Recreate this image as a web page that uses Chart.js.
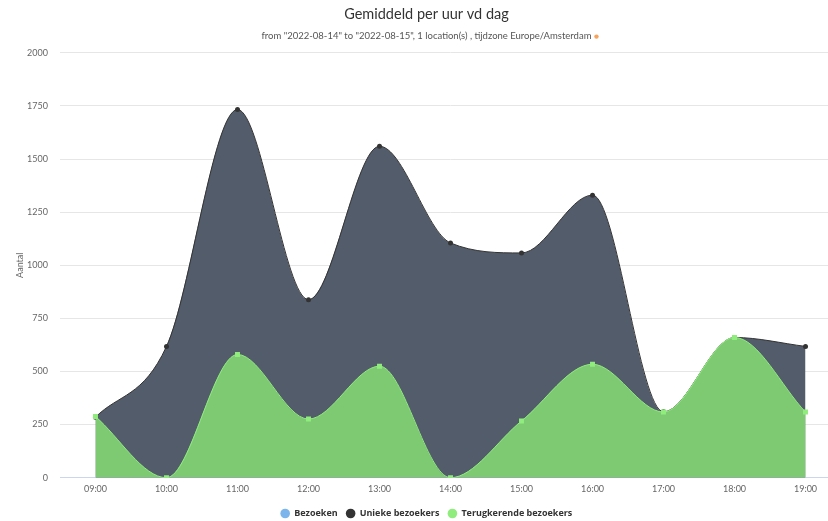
<!DOCTYPE html>
<html>
<head>
<meta charset="utf-8">
<script src="https://cdn.jsdelivr.net/npm/chart.js@4.4.0/dist/chart.umd.min.js"></script>
<style>
  html, body { margin: 0; padding: 0; background: #fff; overflow: hidden; }
  #wrap { width: 845px; height: 528px; }
</style>
</head>
<body>
<div id="wrap"><canvas id="chart"></canvas></div>
<script>
// chart data
const hours = ["09:00", "10:00", "11:00", "12:00", "13:00", "14:00", "15:00", "16:00", "17:00", "18:00", "19:00"];
const visits = [];
const uniqueVisitors = [285, 618, 1733, 838, 1560, 1105, 1058, 1330, 310, 660, 618];
const returningVisitors = [288, 0, 580, 276, 525, 0, 267, 534, 309, 660, 309];
const yTicks = [0, 250, 500, 750, 1000, 1250, 1500, 1750, 2000];

const legendColors = ["#7cb5ec", "#333333", "#90ed7d"];
const font = "Lato, 'Open Sans', sans-serif";
const subtitleText = 'from "2022-08-14" to "2022-08-15", 1 location(s) , tijdzone Europe/Amsterdam';
const subtitleSize = 9.5;

// orange dot after the subtitle
const subtitleDot = {
  id: "subtitleDot",
  afterDraw(chart) {
    const sub = chart.boxes.find((b) => b.options && b.options.text === subtitleText);
    if (!sub) return;
    const ctx = chart.ctx;
    ctx.save();
    ctx.font = subtitleSize + "px " + font;
    const w = ctx.measureText(subtitleText).width;
    const cx = (sub.left + sub.right) / 2 + w / 2 + 5;
    const cy = sub.top + (subtitleSize * 1.2) / 2 + 0.5;
    ctx.fillStyle = "#f7a35c";
    ctx.beginPath();
    ctx.arc(cx, cy, 2.2, 0, Math.PI * 2);
    ctx.fill();
    ctx.restore();
  }
};

const ctx = document.getElementById("chart").getContext("2d");
new Chart(ctx, {
  type: "line",
  data: {
    labels: hours,
    datasets: [
      {
        label: "Bezoeken",
        data: visits,
        borderColor: "#7cb5ec",
        backgroundColor: "#7cb5ec",
        order: 0,
      },
      {
        label: "Unieke bezoekers",
        data: uniqueVisitors,
        borderColor: "#333333",
        borderWidth: 1,
        backgroundColor: "#535c6a",
        fill: "origin",
        cubicInterpolationMode: "monotone",
        pointRadius: 2.5,
        pointBackgroundColor: "#333333",
        pointBorderWidth: 0,
        order: 2,
      },
      {
        label: "Terugkerende bezoekers",
        data: returningVisitors,
        borderColor: "#90ed7d",
        borderWidth: 1,
        backgroundColor: "#7dca73",
        fill: "origin",
        cubicInterpolationMode: "monotone",
        pointStyle: "rect",
        pointRadius: 3.5,
        pointBackgroundColor: "#90ed7d",
        pointBorderWidth: 0,
        order: 1,
      },
    ],
  },
  options: {
    responsive: true,
    maintainAspectRatio: false,
    animation: false,
    layout: { padding: { top: 2, right: 0, bottom: 0, left: 8 } },
    scales: {
      x: {
        offset: true,
        grid: { display: false, drawTicks: false },
        border: { color: "#ccd6eb" },
        ticks: { color: "#666", font: { family: font, size: 9 }, padding: 6, maxRotation: 0 },
      },
      y: {
        min: 0,
        max: 2000,
        afterBuildTicks: (scale) => {
          scale.ticks = yTicks.map((v) => ({ value: v }));
        },
        afterFit: (scale) => {
          scale.width = 52;
        },
        grid: { color: "#e6e6e6", drawTicks: false },
        border: { display: false },
        ticks: {
          color: "#666",
          font: { family: font, size: 9 },
          padding: 12,
          callback: (v) => String(v),
        },
        title: {
          display: true,
          text: "Aantal",
          color: "#666",
          font: { family: font, size: 9 },
          padding: { top: 7, bottom: 0 },
        },
      },
    },
    plugins: {
      title: {
        display: true,
        text: "Gemiddeld per uur vd dag",
        color: "#333",
        font: { family: font, size: 14.5, weight: "normal" },
        padding: { top: 4, bottom: 7 },
      },
      subtitle: {
        display: true,
        text: subtitleText,
        color: "#555",
        font: { family: font, size: subtitleSize },
        padding: { top: 0, bottom: 11 },
      },
      legend: {
        position: "bottom",
        labels: {
          usePointStyle: true,
          pointStyle: "circle",
          boxWidth: 13,
          boxHeight: 6.8,
          padding: 8.5,
          color: "#333",
          font: { family: "'Open Sans', sans-serif", size: 9, weight: "bold" },
          sort: (a, b) => a.datasetIndex - b.datasetIndex,
          generateLabels: (chart) =>
            Chart.defaults.plugins.legend.labels.generateLabels(chart).map((item) => ({
              ...item,
              fillStyle: legendColors[item.datasetIndex],
              strokeStyle: legendColors[item.datasetIndex],
              lineWidth: 0,
              pointStyle: "circle",
            })),
        },
      },
      tooltip: { enabled: false },
    },
  },
  plugins: [subtitleDot],
});
</script>
</body>
</html>
